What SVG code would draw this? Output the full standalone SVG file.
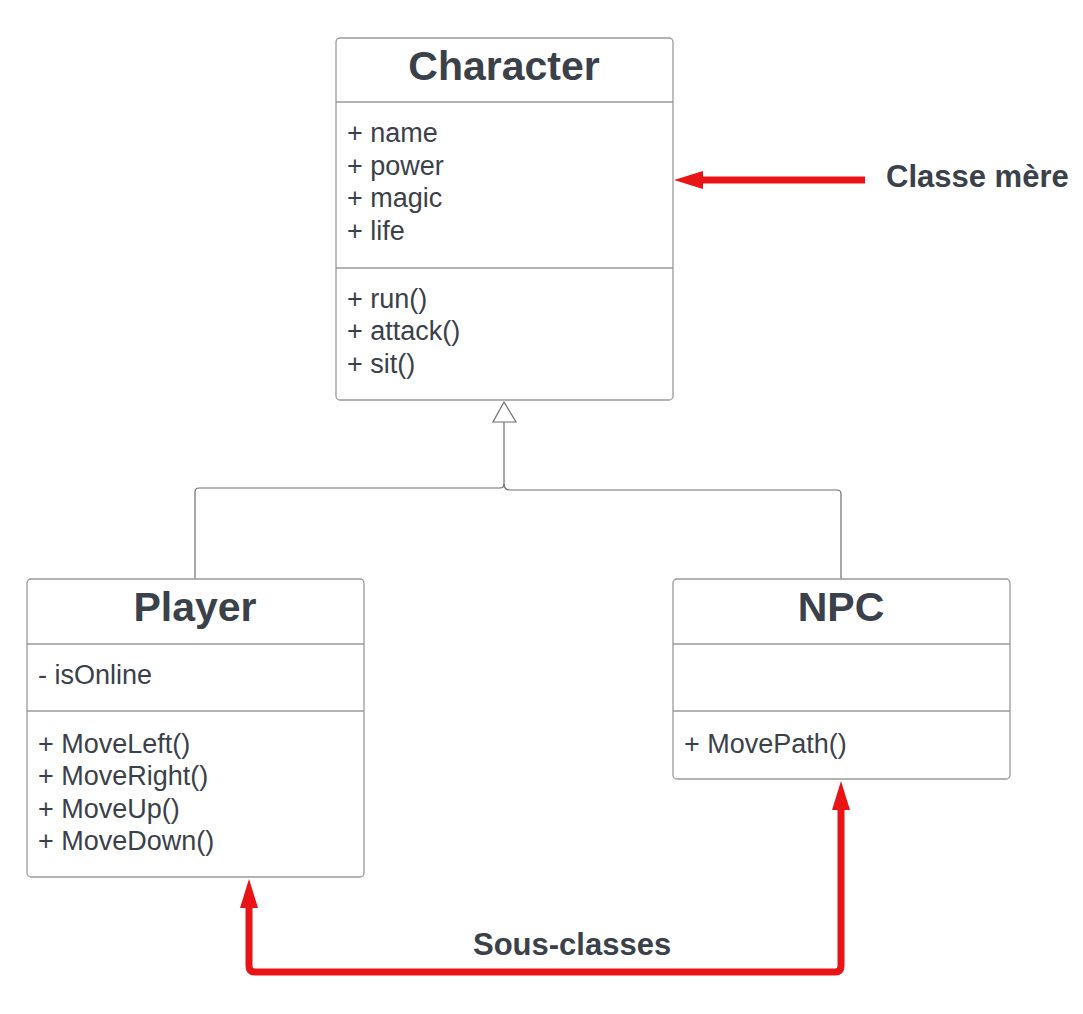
<svg xmlns="http://www.w3.org/2000/svg" width="1083" height="1014" viewBox="0 0 1083 1014">
<defs>
<style>
.box{fill:#ffffff;stroke:#9a9a9a;stroke-width:1.3}
.div{stroke:#9a9a9a;stroke-width:1.3}
.title{font-family:"Liberation Sans",Arial,sans-serif;font-weight:bold;font-size:41px;fill:#3a414a;text-anchor:middle}
.item{font-family:"Liberation Sans",Arial,sans-serif;font-size:27px;fill:#3a414a}
.note{font-family:"Liberation Sans",Arial,sans-serif;font-weight:bold;font-size:31px;fill:#3a414a}
.gen{fill:none;stroke:#6f6f6f;stroke-width:1.2}
.red{fill:none;stroke:#e81416;stroke-width:7;stroke-linejoin:round}
</style>
</defs>
<rect width="1083" height="1014" fill="#ffffff"/>
<g id="connectors">
<path class="gen" d="M504 422 V484 Q504 488 500 488 H199 Q195 488 195 492 V579"/>
<path class="gen" d="M504 484 Q504 490 510 490 H837 Q841 490 841 494 V579"/>
<polygon points="504,402 493,422 516,422" fill="#ffffff" stroke="#6f6f6f" stroke-width="1.2"/>
<path class="red" d="M865 180 H700"/>
<polygon points="674,180 703,171 703,189" fill="#e81416"/>
<path class="red" d="M249 906 V966 Q249 972 255 972 H835 Q841 972 841 966 V808"/>
<polygon points="249,879 240,908 258,908" fill="#e81416"/>
<polygon points="841,781 832,810 850,810" fill="#e81416"/>
</g>
<g id="character">
<rect class="box" x="336" y="38" width="337" height="362" rx="4"/>
<line class="div" x1="336" y1="102" x2="673" y2="102"/>
<line class="div" x1="336" y1="268" x2="673" y2="268"/>
<text class="title" x="504" y="80">Character</text>
<text class="item" x="347" y="142">+ name</text>
<text class="item" x="347" y="175">+ power</text>
<text class="item" x="347" y="207">+ magic</text>
<text class="item" x="347" y="240">+ life</text>
<text class="item" x="347" y="308">+ run()</text>
<text class="item" x="347" y="340">+ attack()</text>
<text class="item" x="347" y="373">+ sit()</text>
</g>
<g id="player">
<rect class="box" x="27" y="579" width="337" height="298" rx="4"/>
<line class="div" x1="27" y1="644" x2="364" y2="644"/>
<line class="div" x1="27" y1="711" x2="364" y2="711"/>
<text class="title" x="195" y="621">Player</text>
<text class="item" x="38" y="684">- isOnline</text>
<text class="item" x="38" y="753">+ MoveLeft()</text>
<text class="item" x="38" y="785">+ MoveRight()</text>
<text class="item" x="38" y="818">+ MoveUp()</text>
<text class="item" x="38" y="850">+ MoveDown()</text>
</g>
<g id="npc">
<rect class="box" x="673" y="579" width="337" height="200" rx="4"/>
<line class="div" x1="673" y1="644" x2="1010" y2="644"/>
<line class="div" x1="673" y1="711" x2="1010" y2="711"/>
<text class="title" x="841" y="621">NPC</text>
<text class="item" x="684" y="753">+ MovePath()</text>
</g>
<g id="labels">
<text class="note" x="886" y="187">Classe mère</text>
<text class="note" x="473" y="955">Sous-classes</text>
</g>
</svg>
